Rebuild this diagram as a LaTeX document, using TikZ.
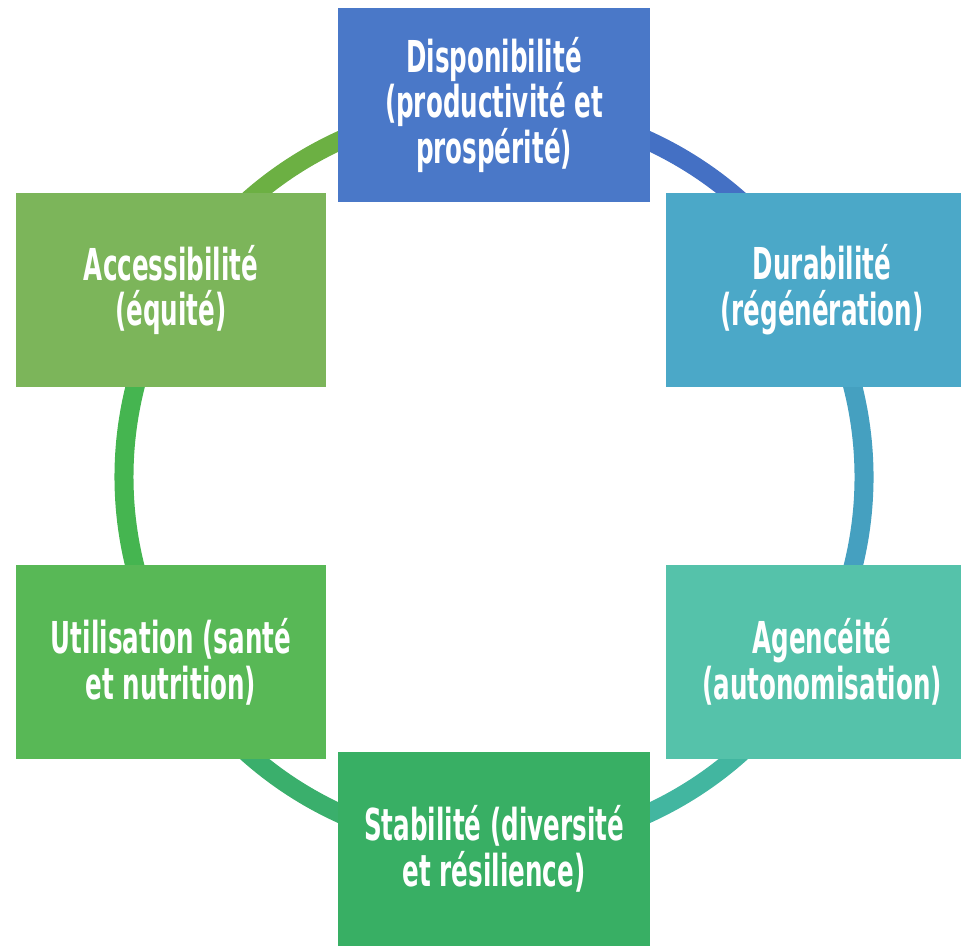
\documentclass[tikz,border=0pt]{standalone}
\usepackage{fontspec}
\setmainfont{DejaVu Sans}[FakeStretch=0.56]
\usetikzlibrary{backgrounds}

\definecolor{dispoblue}{HTML}{4A78C8}
\definecolor{durabteal}{HTML}{4BA8C8}
\definecolor{agencesea}{HTML}{55C2AA}
\definecolor{stabilgreen}{HTML}{38AF64}
\definecolor{utilisgreen}{HTML}{58B856}
\definecolor{accessgreen}{HTML}{7CB55A}
\definecolor{ringblue}{HTML}{4470C4}
\definecolor{ringteal}{HTML}{45A0C0}
\definecolor{ringsea}{HTML}{42B6A0}
\definecolor{ringmint}{HTML}{3AAF6C}
\definecolor{ringgreen}{HTML}{45B550}
\definecolor{ringolive}{HTML}{6CB043}

\begin{document}
\begin{tikzpicture}[x=0.01cm,y=0.01cm,
    box/.style={rectangle,minimum width=3.12cm,minimum height=1.94cm,inner sep=0pt,align=center,text=white,font=\bfseries\fontsize{12.5}{13}\selectfont},
    ring/.style={line width=0.19cm}]

            \useasboundingbox (0,0) rectangle (961,-946);
            \coordinate (o) at (494,-477);
            \foreach \a in {90,30,-30,-90,-150,150}
                \coordinate (r\a) at ([shift={(\a:370)}]o);

            \node[box, fill=dispoblue] (dispo) at (494,-105) {Disponibilité\\(productivité et\\prospérité)};
            \node[box, fill=durabteal] (durab) at (822,-290) {Durabilité\\(régénération)};
            \node[box, fill=agencesea] (agence) at (822,-662) {Agencéité\\(autonomisation)};
            \node[box, fill=stabilgreen] (stabil) at (494,-849) {Stabilité (diversité\\et résilience)};
            \node[box, fill=utilisgreen, minimum width=3.09cm] (utilis) at (171,-662) {Utilisation (santé\\et nutrition)};
            \node[box, fill=accessgreen, minimum width=3.09cm] (access) at (171,-290) {Accessibilité\\(équité)};

            \begin{scope}[on background layer]
            \draw[ring, ringblue] (r90) arc[start angle=90, end angle=30, radius=3.7cm];
            \draw[ring, ringteal] (r30) arc[start angle=30, end angle=-30, radius=3.7cm];
            \draw[ring, ringsea] (r-30) arc[start angle=-30, end angle=-90, radius=3.7cm];
            \draw[ring, ringmint] (r-90) arc[start angle=-90, end angle=-150, radius=3.7cm];
            \draw[ring, ringgreen] (r-150) arc[start angle=-150, end angle=-210, radius=3.7cm];
            \draw[ring, ringolive] (r150) arc[start angle=150, end angle=90, radius=3.7cm];
            \end{scope}

            ;
        \end{tikzpicture}
\end{document}
